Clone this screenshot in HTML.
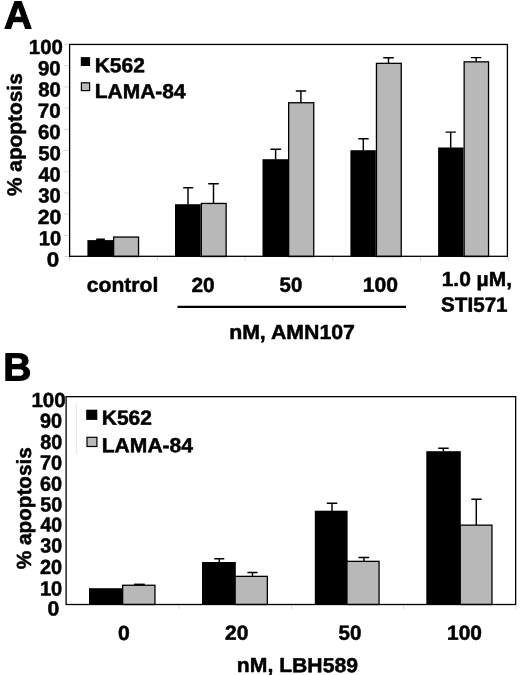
<!DOCTYPE html>
<html>
<head>
<meta charset="utf-8">
<title>Figure</title>
<style>
html,body{margin:0;padding:0;background:#fff;}
body{width:520px;height:675px;overflow:hidden;}
svg{display:block;filter:grayscale(1) blur(0.35px);}
text{font-family:"Liberation Sans",sans-serif;font-weight:bold;fill:#000;stroke:#000;stroke-width:0.5px;stroke-linejoin:round;}
.t{font-size:20.5px;}
.p{font-size:39.1px;stroke-width:1.1px;}
.ax{stroke:#000;stroke-width:1.3;fill:none;}
.tk{stroke:#d9d9d9;stroke-width:1;}
.bk{fill:#000;}
.gr{fill:#b8b8b8;stroke:#000;stroke-width:1.3;}
.eb{stroke:#000;stroke-width:1.45;fill:none;}
</style>
</head>
<body>
<svg width="520" height="675" viewBox="0 0 520 675">
<rect width="520" height="675" fill="#fff"/>

<!-- ================= PANEL A ================= -->
<!-- ticks (light gray) -->
<g class="tk">
<path d="M64 44.4H69M64 65.6H69M64 86.9H69M64 108.1H69M64 129.3H69M64 150.5H69M64 171.8H69M64 193H69M64 214.2H69M64 235.4H69M64 256.5H69"/>
<path d="M69.6 257V261M157.3 257V261M245.1 257V261M332.8 257V261M420.5 257V261M508 257V261"/>
</g>

<!-- bars A -->
<g class="bk">
<rect x="87.40" y="240.10" width="25.60" height="16.40"/>
<rect x="175.00" y="204.20" width="25.70" height="52.30"/>
<rect x="262.50" y="159.20" width="25.50" height="97.30"/>
<rect x="350.40" y="150.20" width="25.40" height="106.30"/>
<rect x="438.10" y="147.50" width="25.40" height="109.00"/>
</g>
<g class="gr">
<rect x="113.65" y="237.05" width="24.90" height="19.45"/>
<rect x="201.35" y="203.45" width="24.80" height="53.05"/>
<rect x="288.65" y="102.75" width="25.10" height="153.75"/>
<rect x="376.45" y="63.35" width="24.80" height="193.15"/>
<rect x="464.15" y="61.85" width="24.40" height="194.65"/>
</g>
<!-- error bars A -->
<g class="eb">
<rect x="96.2" y="238.5" width="8.7" height="2.5" fill="#000" stroke="none"/>
<path d="M188 204.5V187.7M183.2 187.7H193.2"/>
<path d="M213.5 203V183.8M208.2 183.8H218.8"/>
<path d="M275.6 159.5V149.2M270.4 149.2H281.1"/>
<path d="M300.9 103V90.9M295.8 90.9H306.2"/>
<path d="M363.3 150.5V138.8M358.3 138.8H368.7"/>
<path d="M388.5 63V57.7M383.2 57.7H393.8"/>
<path d="M450.7 148V132.1M445.6 132.1H455.8"/>
<path d="M476.1 61.5V57.6M470.9 57.6H481.3"/>
</g>

<!-- frame A -->
<rect class="ax" x="69.6" y="44.45" width="437.8" height="211.85"/>

<!-- legend A -->
<rect x="80.8" y="57.1" width="9.3" height="8.9" fill="#000"/>
<rect x="81.4" y="82.8" width="8.2" height="7.8" fill="#b8b8b8" stroke="#000" stroke-width="1.2"/>

<path d="M177.5 306.9H406" stroke="#000" stroke-width="2.2"/>

<!-- ================= PANEL B ================= -->
<g class="tk" style="stroke:#dcdcdc">
<path d="M179 605.5V609M291.5 605.5V609M403.5 605.5V609M516 605.5V609"/>
<path d="M76.3 403.8V453.8" style="stroke:#e4e4e4"/>
</g>


<g class="bk">
<rect x="89.00" y="588.20" width="33.80" height="16.30"/>
<rect x="202.00" y="562.00" width="33.80" height="42.50"/>
<rect x="314.80" y="510.70" width="32.80" height="93.80"/>
<rect x="426.30" y="451.20" width="34.50" height="153.30"/>
</g>
<g class="gr">
<rect x="122.65" y="585.25" width="32.30" height="19.25"/>
<rect x="235.15" y="576.35" width="32.20" height="28.15"/>
<rect x="346.95" y="561.35" width="32.10" height="43.15"/>
<rect x="460.25" y="525.15" width="31.70" height="79.35"/>
</g>
<g class="eb">
<rect x="134.0" y="583.6" width="10.8" height="1.8" fill="#000" stroke="none"/>
<path d="M219.3 562.5V558.7M214.3 558.7H224.3"/>
<path d="M252.5 576V572.5M247.4 572.5H257.6"/>
<path d="M332 511V503.3M326.8 503.3H337.3"/>
<path d="M363.9 561V557.5M358.5 557.5H369.2"/>
<path d="M443.4 451.5V448.2M438.2 448.2H448.7"/>
<path d="M476.3 525V499.3M471.3 499.3H481.7"/>
</g>

<rect class="ax" x="66.1" y="396.65" width="449.55" height="207.85"/>

<!-- legend B -->
<rect x="86.2" y="409.7" width="11.1" height="10.2" fill="#000"/>
<rect x="87.0" y="437.3" width="9.9" height="9.2" fill="#b8b8b8" stroke="#000" stroke-width="1.2"/>

<!-- ================= TEXT (Liberation Sans Bold) ================= -->
<text class="p" transform="translate(4.03,28.48) rotate(0.03) scale(0.9973,1)">A</text>
<text class="p" transform="translate(3.28,380.38) rotate(0.03) scale(0.9970,1)">B</text>
<text class="t" transform="translate(28.80,53.92) rotate(0.03) scale(0.9962,1)">100</text>
<text class="t" transform="translate(38.00,75.17) rotate(0.03) scale(0.9977,1)">90</text>
<text class="t" transform="translate(38.13,96.42) rotate(0.03) scale(0.9920,1)">80</text>
<text class="t" transform="translate(37.87,117.67) rotate(0.03) scale(1.0035,1)">70</text>
<text class="t" transform="translate(38.00,138.93) rotate(0.03) scale(0.9977,1)">60</text>
<text class="t" transform="translate(38.13,160.18) rotate(0.03) scale(0.9920,1)">50</text>
<text class="t" transform="translate(38.50,181.43) rotate(0.03) scale(0.9753,1)">40</text>
<text class="t" transform="translate(38.25,202.55) rotate(0.03) scale(0.9864,1)">30</text>
<text class="t" transform="translate(37.68,223.93) rotate(0.03) scale(1.0345,1)">20</text>
<text class="t" transform="translate(38.82,245.18) rotate(0.03) scale(0.9835,1)">10</text>
<text class="t" transform="translate(46.65,266.43) rotate(0.03) scale(1.0927,1)">0</text>
<text class="t" transform="translate(94.65,72.33) rotate(0.03) scale(1.0243,1)">K562</text>
<text class="t" transform="translate(94.65,98.12) rotate(0.03) scale(1.0253,1)">LAMA-84</text>
<text class="t" transform="translate(86.78,291.82) rotate(0.03) scale(1.0303,1)">control</text>
<text class="t" transform="translate(191.39,291.93) rotate(0.03) scale(1.0207,1)">20</text>
<text class="t" transform="translate(279.53,291.82) rotate(0.03) scale(0.9966,1)">50</text>
<text class="t" transform="translate(362.67,291.73) rotate(0.03) scale(1.0299,1)">100</text>
<text class="t" transform="translate(441.68,286.00) rotate(0.03) scale(1.0221,1)">1.0 µM,</text>
<text class="t" transform="translate(441.12,311.62) rotate(0.03) scale(1.0065,1)">STI571</text>
<text class="t" transform="translate(229.13,339.00) rotate(0.03) scale(1.0396,1)">nM, AMN107</text>
<text class="t" transform="translate(31.40,406.93) rotate(0.03) scale(1.0023,1)">100</text>
<text class="t" transform="translate(40.01,427.73) rotate(0.03) scale(0.9701,1)">90</text>
<text class="t" transform="translate(40.14,449.02) rotate(0.03) scale(0.9646,1)">80</text>
<text class="t" transform="translate(39.89,469.62) rotate(0.03) scale(0.9757,1)">70</text>
<text class="t" transform="translate(40.01,490.82) rotate(0.03) scale(0.9701,1)">60</text>
<text class="t" transform="translate(40.14,511.52) rotate(0.03) scale(0.9646,1)">50</text>
<text class="t" transform="translate(40.50,531.62) rotate(0.03) scale(0.9483,1)">40</text>
<text class="t" transform="translate(40.26,552.50) rotate(0.03) scale(0.9591,1)">30</text>
<text class="t" transform="translate(40.01,573.92) rotate(0.03) scale(0.9701,1)">20</text>
<text class="t" transform="translate(39.92,595.42) rotate(0.03) scale(0.9788,1)">10</text>
<text class="t" transform="translate(47.48,615.62) rotate(0.03) scale(1.0341,1)">0</text>
<text class="t" transform="translate(101.75,424.73) rotate(0.03) scale(1.0243,1)">K562</text>
<text class="t" transform="translate(101.74,452.32) rotate(0.03) scale(1.0287,1)">LAMA-84</text>
<text class="t" transform="translate(117.98,639.92) rotate(0.03) scale(1.0341,1)">0</text>
<text class="t" transform="translate(225.09,639.83) rotate(0.03) scale(1.0253,1)">20</text>
<text class="t" transform="translate(338.47,639.83) rotate(0.03) scale(1.0034,1)">50</text>
<text class="t" transform="translate(447.08,639.73) rotate(0.03) scale(1.0207,1)">100</text>
<text class="t" transform="translate(236.84,672.10) rotate(0.03) scale(1.0324,1)">nM, LBH589</text>
<text class="t" transform="translate(21.60,196.05) rotate(-89.97) scale(1.0177,1)">% apoptosis</text>
<text class="t" transform="translate(31.00,569.25) rotate(-89.97) scale(1.0119,1)">% apoptosis</text>
</svg>
</body>
</html>
